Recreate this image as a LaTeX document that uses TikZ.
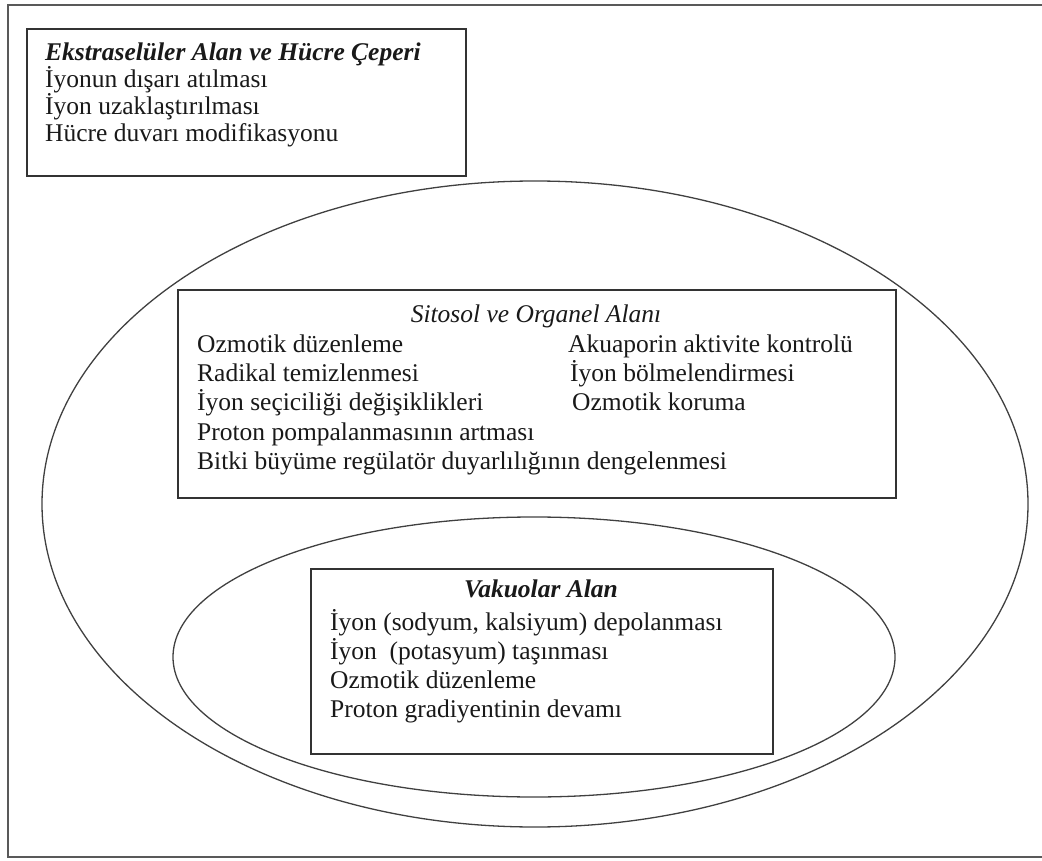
\documentclass[tikz,border=0pt]{standalone}
\usepackage{fontspec}
\setmainfont{Liberation Serif}
\tikzset{
  kutu/.style={draw=black!80, line width=1.8pt, rectangle, inner sep=0pt, anchor=north west},
  metin/.style={font=\fontsize{25.5}{28}\selectfont, inner sep=0pt, anchor=base west, text=black!90},
  baslik/.style={metin, font=\fontsize{25.5}{28}\selectfont\bfseries\itshape},
}
\begin{document}
\begin{tikzpicture}[x=1pt, y=-1pt]
\useasboundingbox (0,0) rectangle (1042,861);
\draw[black!65, line width=1.8pt] (1045,5) -- (8,5) -- (8,857) -- (1045,857);
% alanlar
\draw[black!75, line width=1.3pt] (535,504) ellipse [x radius=493, y radius=323];
\draw[black!75, line width=1.3pt] (534,657) ellipse [x radius=361, y radius=140];
% ekstraseluler alan
\node[kutu, minimum width=439pt, minimum height=147pt] (dis) at (26,28) {};
\node[baslik] (disB) at (45,61) {Ekstraselüler Alan ve Hücre Çeperi};
\node[metin] (dis1) at (45,88) {İyonun dışarı atılması};
\node[metin] (dis2) at (45,115) {İyon uzaklaştırılması};
\node[metin] (dis3) at (45,142) {Hücre duvarı modifikasyonu};
% sitosol
\node[kutu, fill=white, minimum width=718pt, minimum height=208pt] (sit) at (177,289) {};
\node[metin, font=\fontsize{25.5}{28}\selectfont\itshape, anchor=base] (sitB) at (536,322) {Sitosol ve Organel Alanı};
\node[metin] (sit1) at (197,352) {Ozmotik düzenleme};
\node[metin] (sit2) at (197,381) {Radikal temizlenmesi};
\node[metin] (sit3) at (197,410) {İyon seçiciliği değişiklikleri};
\node[metin] (sit4) at (197,440) {Proton pompalanmasının artması};
\node[metin] (sit5) at (197,469) {Bitki büyüme regülatör duyarlılığının dengelenmesi};
\node[metin] (sit6) at (568,352) {Akuaporin aktivite kontrolü};
\node[metin] (sit7) at (570,381) {İyon bölmelendirmesi};
\node[metin] (sit8) at (572,410) {Ozmotik koruma};
% vakuol
\node[kutu, fill=white, minimum width=462pt, minimum height=185pt] (vak) at (310,568) {};
\node[baslik, anchor=base] (vakB) at (541,597) {Vakuolar Alan};
\node[metin] (vak1) at (330,630) {İyon (sodyum, kalsiyum) depolanması};
\node[metin] (vak2) at (330,659) {İyon~ (potasyum) taşınması};
\node[metin] (vak3) at (330,688) {Ozmotik düzenleme};
\node[metin] (vak4) at (330,717) {Proton gradiyentinin devamı};
\end{tikzpicture}
\end{document}
